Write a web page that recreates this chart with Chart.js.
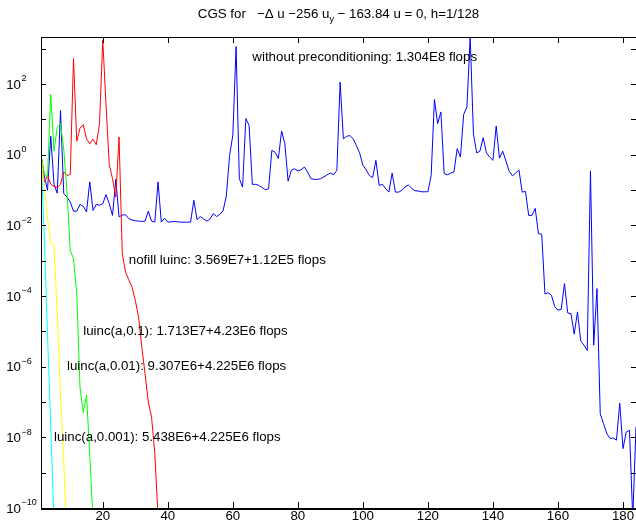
<!DOCTYPE html>
<html>
<head>
<meta charset="utf-8">
<script src="https://cdn.jsdelivr.net/npm/chart.js@4.4.0/dist/chart.umd.min.js"></script>
<style>
  html, body { margin: 0; padding: 0; background: #fff; }
  #wrap { width: 636px; height: 521px; }
</style>
</head>
<body>
<div id="wrap"><canvas id="cgsChart" width="636" height="521"></canvas></div>
<script>
// --- RESIDUAL HISTORIES (log10 of relative residual, one entry per CGS iteration) ---
const noPrecond = [
   0.00, -0.59, -1.01,  0.52, -0.84, -1.09,  1.25, -1.10, -1.20, -1.34,
  -1.60, -1.60, -1.41, -1.46, -1.62, -0.77, -1.58, -1.41, -1.43, -1.39,
  -1.13, -1.39, -1.72, -0.70, -1.76, -1.71, -1.70, -1.81, -1.85, -1.87,
  -1.88, -1.89, -1.88, -1.60, -1.88, -1.91, -0.77, -1.91, -1.80, -1.91,
  -1.90, -1.89, -1.90, -1.91, -1.91, -1.91, -1.91, -1.29, -1.84, -1.75,
  -1.82, -1.88, -1.82, -1.67, -1.75, -1.69, -1.59, -1.17, -0.02,  0.55,
   3.06, -0.68, -0.92,  1.02,  0.83, -0.84, -0.84, -0.87, -0.93, -0.99,
  -0.97,  0.12,  0.07, -0.11,  0.67,  0.31, -0.75, -0.44, -0.40, -0.46,
  -0.43, -0.35, -0.49, -0.68, -0.70, -0.70, -0.68, -0.63, -0.57, -0.52,
  -0.57, -0.44,  2.05,  0.45,  0.52,  0.54,  0.45,  0.26,  0.05, -0.30,
  -0.43, -0.59, -0.65, -0.16, -0.87, -0.84, -0.96, -1.06, -0.52, -1.06,
  -1.06, -1.01, -0.91, -0.86, -0.95, -1.02, -1.03, -1.05, -1.05, -1.05,
  -0.59,  1.56,  0.88,  1.21, -0.54, -0.57, -0.52, -0.49,  0.17, -0.07,
   1.14,  1.35,  3.33,  0.59,  0.05,  0.10,  0.48,  0.05, -0.07, -0.16,
   0.81, -0.10,  0.10, -0.18, -0.47, -0.60, -0.52, -0.43, -1.06, -1.04,
  -1.72, -1.72, -1.52, -2.24, -2.25, -3.94, -3.91, -3.98, -4.30, -4.40,
  -4.38, -3.65, -4.48, -4.50, -5.08, -4.45, -5.27, -5.39, -5.54, -0.46,
  -5.39, -3.79, -7.33, -7.61, -7.89, -8.03, -8.02, -8.08, -7.03, -8.32,
  -7.85, -7.80, -10.3, -7.70
];
const nofillLuinc = [
   0.00, -0.78, -0.59, -0.84, -0.90, -0.93, -0.84, -0.49, -0.59, -0.56,
   2.72,  0.38,  0.75,  0.85,  0.45,  0.31,  0.44,  0.28,  0.88,  3.25,
   1.40, -0.28, -0.68, -1.20,  0.50, -2.80, -3.32, -3.54, -3.75, -4.12,
  -4.59, -5.44, -6.20, -7.00, -7.42, -8.46, -10.25
];
const luinc01 = [
   0.00, -0.54, -0.63,  1.71,  0.10,  0.78,  0.88,  0.15, -1.05, -2.71,
  -2.94, -3.93, -6.60, -7.30, -6.80, -8.50, -10.35
];
const luinc001 = [0.00, -0.90, -1.80, -2.52, -2.56, -4.50, -6.80, -8.70, -11.0];
const luinc0001 = [0.00, -2.30, -5.10, -7.70, -10.4];

const seriesColors = ['#0000ff', '#ff0000', '#00ff00', '#ffff00', '#00ffff'];

// axis ticks
const xTicks = [20, 40, 60, 80, 100, 120, 140, 160, 180];
const yDecades = [-10, -9, -8, -7, -6, -5, -4, -3, -2, -1, 0, 1, 2, 3];
const yLabelExps = [-10, -8, -6, -4, -2, 0, 2];

// flop-count annotations: [text, iteration, residual]
const notes = [
  ['without preconditioning: 1.304E8 flops', 66, 550],
  ['nofill luinc: 3.569E7+1.12E5 flops', 28, 1e-3],
  ['luinc(a,0.1): 1.713E7+4.23E6 flops', 14, 1e-5],
  ['luinc(a,0.01): 9.307E6+4.225E6 flops', 9, 1e-6],
  ['luinc(a,0.001): 5.438E6+4.225E6 flops', 5, 1e-8]
];

const FONT = '"Liberation Sans", Arial, Helvetica, sans-serif';
const TXT = '13.3px ' + FONT;
const SUP = '9px ' + FONT;

function toPoints(arr) {
  return arr.map((v, i) => ({ x: i + 1, y: Math.pow(10, v) }));
}

const histories = [noPrecond, nofillLuinc, luinc01, luinc001, luinc0001];

// --- MATLAB-STYLE FRAME, TICKS, LABELS AND TITLE ---
const framePlugin = {
  id: 'frame',
  afterDraw(chart) {
    const { ctx, chartArea: a, scales } = chart;
    const xs = scales.x, ys = scales.y;
    ctx.save();

    // annotations
    ctx.fillStyle = '#000';
    ctx.font = TXT;
    ctx.textAlign = 'left';
    ctx.textBaseline = 'middle';
    notes.forEach(([txt, it, val]) => {
      ctx.fillText(txt, xs.getPixelForValue(it), ys.getPixelForValue(val));
    });

    // box, bottom edge a little heavier
    ctx.strokeStyle = '#000';
    ctx.lineWidth = 1;
    ctx.strokeRect(a.left + 0.5, a.top + 0.5, a.right - a.left, a.bottom - a.top);
    ctx.fillRect(a.left, a.bottom, a.right - a.left, 2);

    // inward ticks
    ctx.beginPath();
    xTicks.forEach(v => {
      const px = Math.round(xs.getPixelForValue(v)) + 0.5;
      ctx.moveTo(px, a.bottom); ctx.lineTo(px, a.bottom - 6);
      ctx.moveTo(px, a.top); ctx.lineTo(px, a.top + 6);
    });
    yDecades.forEach(e => {
      const py = Math.round(ys.getPixelForValue(Math.pow(10, e))) + 0.5;
      ctx.moveTo(a.left, py); ctx.lineTo(a.left + 5, py);
      ctx.moveTo(a.right, py); ctx.lineTo(a.right - 5, py);
    });
    ctx.stroke();

    // x tick labels
    ctx.font = TXT;
    ctx.textAlign = 'center';
    ctx.textBaseline = 'alphabetic';
    xTicks.forEach(v => {
      ctx.fillText(String(v), xs.getPixelForValue(v), 520);
    });

    // y tick labels: 10 with raised exponent
    yLabelExps.forEach(e => {
      const py = ys.getPixelForValue(Math.pow(10, e));
      ctx.font = TXT;
      ctx.textAlign = 'right';
      ctx.textBaseline = 'middle';
      ctx.fillText('10', 21, py + 1);
      ctx.font = SUP;
      ctx.textAlign = 'left';
      ctx.fillText(e < 0 ? '\u2212' + Math.abs(e) : String(e), 21.5, py - 5);
    });

    // title with subscript
    const partA = 'CGS for   \u2212\u0394 u \u2212256 u';
    const partB = ' \u2212 163.84 u = 0, h=1/128';
    ctx.font = TXT;
    const wA = ctx.measureText(partA).width;
    const wB = ctx.measureText(partB).width;
    ctx.font = SUP;
    const wSub = ctx.measureText('y').width;
    const total = wA + wSub + wB;
    let tx = (a.left + a.right) / 2 - total / 2;
    const ty = 18;
    ctx.textAlign = 'left';
    ctx.textBaseline = 'alphabetic';
    ctx.font = TXT;
    ctx.fillText(partA, tx, ty);
    tx += wA;
    ctx.font = SUP;
    ctx.fillText('y', tx, ty + 4);
    tx += wSub;
    ctx.font = TXT;
    ctx.fillText(partB, tx, ty);

    ctx.restore();
  }
};

new Chart(document.getElementById('cgsChart'), {
  type: 'line',
  data: {
    datasets: histories.map((h, i) => ({
      data: toPoints(h),
      borderColor: seriesColors[i],
      borderWidth: 1,
      pointRadius: 0,
      fill: false,
      tension: 0,
      order: histories.length - i
    }))
  },
  options: {
    responsive: false,
    devicePixelRatio: 1,
    animation: false,
    layout: { padding: { left: 41, right: 0, top: 37, bottom: 13 } },
    scales: {
      x: { type: 'linear', min: 1, max: 184, display: false },
      y: { type: 'logarithmic', min: 1e-10, max: Math.pow(10, 3.33), display: false }
    },
    plugins: {
      legend: { display: false },
      tooltip: { enabled: false }
    }
  },
  plugins: [framePlugin]
});
</script>
</body>
</html>
